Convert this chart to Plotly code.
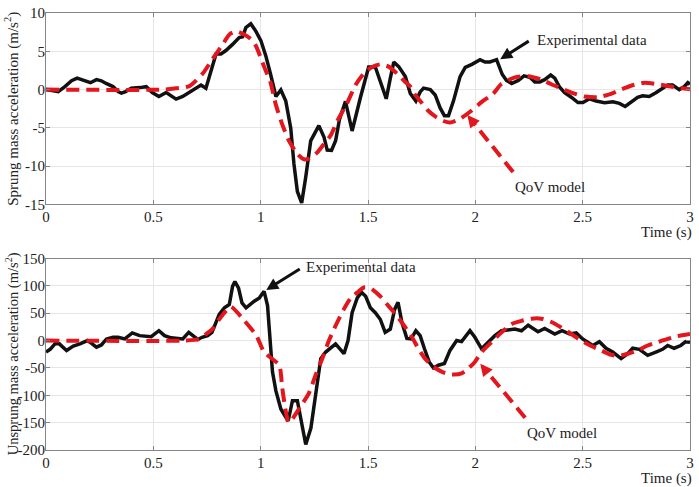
import plotly.graph_objects as go

# ---------------- data ----------------
ticks_x = [0, 0.5, 1, 1.5, 2, 2.5, 3]
ticklabels_x = ["0", "0.5", "1", "1.5", "2", "2.5", "3"]
ticks_y_top = [-15, -10, -5, 0, 5, 10]
ticklabels_y_top = ["-15", "-10", "-5", "0", "5", "10"]
ticks_y_bot = [-200, -150, -100, -50, 0, 50, 100, 150]
ticklabels_y_bot = ["-200", "-150", "-100", "-50", "0", "50", "100", "150"]

t_sprung_exp = [0, 0.057, 0.088, 0.119, 0.145, 0.173, 0.207, 0.235, 0.258, 0.28,
                0.312, 0.336, 0.351, 0.371, 0.397, 0.436, 0.467, 0.495, 0.526, 0.56,
                0.583, 0.606, 0.637, 0.668, 0.699, 0.722, 0.745, 0.769, 0.792, 0.815,
                0.838, 0.869, 0.9, 0.916, 0.931, 0.954, 0.978, 1.001, 1.024, 1.047,
                1.071, 1.094, 1.117, 1.14, 1.155, 1.171, 1.191, 1.21, 1.233, 1.271,
                1.295, 1.31, 1.33, 1.349, 1.367, 1.395, 1.426, 1.465, 1.503, 1.534,
                1.557, 1.585, 1.604, 1.62, 1.643, 1.674, 1.697, 1.723, 1.743, 1.759,
                1.79, 1.813, 1.836, 1.856, 1.875, 1.898, 1.929, 1.953, 1.984, 2.022,
                2.045, 2.068, 2.099, 2.125, 2.145, 2.169, 2.2, 2.227, 2.254, 2.277,
                2.3, 2.323, 2.351, 2.37, 2.393, 2.416, 2.447, 2.478, 2.501, 2.532,
                2.563, 2.602, 2.641, 2.671, 2.698, 2.725, 2.756, 2.779, 2.81, 2.841,
                2.872, 2.896, 2.919, 2.95, 2.974, 2.99, 3.0]
a_sprung_exp = [0, -0.26, 0.4, 1.15, 1.5, 1.24, 0.9, 1.3, 1.15, 0.8,
                0.4, -0.26, -0.47, -0.26, 0.17, 0.26, 0.38, -0.38, -0.9, -0.38,
                -0.8, -1.24, -0.9, -0.38, 0.17, 0.6, 0.17, 2.3, 4.65, 4.65,
                5.1, 5.9, 6.8, 6.9, 8.1, 8.6, 7.6, 6.4, 4.4, 1.9,
                -0.9, -0.04, -1.5, -5.0, -9.7, -13.3, -14.8, -11.4, -6.7, -4.7,
                -6.2, -7.9, -7.95, -6.67, -3.9, -1.54, -5.4, -1.0, 2.95, 2.95,
                1.0, -1.2, 1.5, 3.6, 3.0, 1.7, -0.5, -1.5, -0.3, 0.2,
                0.0, -0.7, -2.4, -3.4, -3.4, -1.5, 1.7, 2.9, 3.3, 3.9,
                3.6, 3.6, 3.9, 2.0, 1.2, 0.8, 1.2, 1.8, 1.6, 1.0,
                1.0, 1.3, 1.9, 1.5, 0.3, -0.4, -1.0, -1.7, -1.7, -1.2,
                -1.5, -1.7, -1.6, -1.8, -2.2, -1.7, -1.0, -0.8, -0.9, -0.4,
                0.2, 0.6, 0.6, 0.0, 0.4, 0.9, 0.7]

t_sprung_qov = [0, 0.55, 0.606, 0.668, 0.73, 0.776, 0.823, 0.854, 0.885, 0.923,
                0.954, 0.978, 1.016, 1.045, 1.071, 1.1, 1.132, 1.171, 1.202, 1.225,
                1.264, 1.295, 1.326, 1.357, 1.403, 1.442, 1.48, 1.519, 1.557, 1.596,
                1.635, 1.674, 1.697, 1.72, 1.751, 1.782, 1.813, 1.852, 1.882, 1.93,
                1.98, 2.03, 2.083, 2.12, 2.184, 2.246, 2.308, 2.354, 2.4, 2.447,
                2.509, 2.57, 2.632, 2.678, 2.725, 2.787, 2.849, 2.91, 3.0]
a_sprung_qov = [0, 0, 0.17, 0.45, 2.1, 4.0, 5.9, 7.2, 7.6, 7.2,
                6.6, 5.7, 3.0, 1.0, -2.0, -4.5, -6.7, -8.4, -9.1, -9.0,
                -8.2, -7.1, -6.0, -4.1, -1.75, 0.6, 2.1, 2.95, 3.3, 3.0,
                2.1, 1.0, 0.4, -0.7, -1.75, -2.8, -3.5, -4.1, -4.3, -3.8,
                -2.8, -1.6, -0.55, 0.7, 1.6, 1.75, 1.3, 0.7, 0.17, -0.38,
                -0.9, -1.0, -0.55, 0.0, 0.5, 0.9, 0.7, 0.4, 0.04]

t_unsprung_exp = [0, 0.019, 0.042, 0.062, 0.096, 0.127, 0.158, 0.193, 0.212, 0.235,
                  0.258, 0.282, 0.312, 0.336, 0.367, 0.402, 0.436, 0.467, 0.49, 0.526,
                  0.552, 0.583, 0.614, 0.637, 0.665, 0.684, 0.707, 0.727, 0.753, 0.773,
                  0.789, 0.807, 0.831, 0.854, 0.869, 0.88, 0.897, 0.913, 0.932, 0.95,
                  0.97, 0.994, 1.016, 1.032, 1.047, 1.055, 1.071, 1.094, 1.128, 1.148,
                  1.171, 1.188, 1.21, 1.234, 1.257, 1.28, 1.303, 1.349, 1.388, 1.407,
                  1.426, 1.45, 1.47, 1.489, 1.511, 1.534, 1.557, 1.58, 1.604, 1.624,
                  1.64, 1.658, 1.681, 1.701, 1.723, 1.743, 1.763, 1.785, 1.805, 1.828,
                  1.856, 1.882, 1.913, 1.936, 1.975, 1.998, 2.029, 2.06, 2.091, 2.122,
                  2.153, 2.184, 2.215, 2.246, 2.292, 2.323, 2.37, 2.404, 2.439, 2.47,
                  2.5, 2.547, 2.578, 2.609, 2.64, 2.679, 2.71, 2.733, 2.764, 2.803,
                  2.841, 2.872, 2.896, 2.926, 2.957, 2.98, 3.0]
a_unsprung_exp = [-21, -16, -6, -6, -18, -10, -6, 0, -5, -12,
                  -8, 3, 6, 6, 3, 14, 9, 7, 7, 18,
                  9, 5, 3, 3, 15, 9, 2, 6, 9, 15,
                  30, 48, 60, 66, 99, 108, 96, 69, 60, 66,
                  72, 78, 90, 64, -15, -57, -92, -125, -147, -110,
                  -110, -146, -190, -160, -92, -33, -21, -6, -24, 0,
                  51, 78, 88, 81, 60, 51, 39, 15, 21, 57,
                  70, 33, 4, 3, 18, 9, -15, -39, -50, -45,
                  -42, -18, 0, -2, 18, 6, -15, -3, 9, 18,
                  20, 21, 18, 28, 16, 22, 12, 18, 12, 14,
                  3, -9, -2, -14, -21, -33, -24, -14, -16, -27,
                  -21, -16, -9, -14, -9, -2, -3]

t_unsprung_qov = [0, 0.634, 0.715, 0.746, 0.777, 0.807, 0.838, 0.862, 0.892, 0.923,
                  0.979, 1.016, 1.086, 1.1, 1.115, 1.13, 1.15, 1.188, 1.225, 1.257,
                  1.285, 1.318, 1.35, 1.387, 1.42, 1.457, 1.48, 1.511, 1.557, 1.596,
                  1.635, 1.674, 1.705, 1.735, 1.766, 1.805, 1.85, 1.891, 1.936, 1.967,
                  1.998, 2.029, 2.075, 2.122, 2.168, 2.215, 2.261, 2.308, 2.354, 2.4,
                  2.447, 2.493, 2.54, 2.586, 2.632, 2.671, 2.71, 2.756, 2.803, 2.849,
                  2.896, 2.942, 3.0]
a_unsprung_qov = [0, 0, 3, 12, 22, 39, 54, 62, 51, 37,
                  10, -21, -45, -85, -125, -150, -142, -119, -96, -62,
                  -35, 0, 28, 57, 78, 90, 97, 96, 81, 63,
                  45, 24, 6, -15, -33, -48, -58, -62, -60, -51,
                  -39, -21, -3, 15, 30, 36, 40, 40, 34, 24,
                  12, 0, -10, -18, -26, -28, -24, -18, -9, -3,
                  3, 8, 12]

assert len(t_sprung_exp) == len(a_sprung_exp)
assert len(t_sprung_qov) == len(a_sprung_qov)
assert len(t_unsprung_exp) == len(a_unsprung_exp)
assert len(t_unsprung_qov) == len(a_unsprung_qov)

# annotation anchor points (data coordinates)
top_exp_head = (2.116, 3.97)
top_exp_text = (2.278, 6.54)
top_qov_head = (1.963, -3.33)
top_qov_shaft_end = (1.986, -4.13)
top_qov_tail = (2.176, -10.77)
top_qov_text = (2.176, -12.7)
bot_exp_head = (1.026, 92.5)
bot_exp_text = (1.202, 133.8)
bot_qov_head = (2.023, -42.2)
bot_qov_shaft_end = (2.047, -53.4)
bot_qov_tail = (2.232, -141.0)
bot_qov_text = (2.232, -169.7)

# ---------------- style ----------------
FONT = "'Liberation Serif', 'Times New Roman', Times, serif"
BLACK = "#111111"
RED = "#e3161e"
AXC = "#858585"
GRID = "#e6e6e6"
DASH = "13px,7px"

fig = go.Figure()

fig.add_trace(go.Scatter(x=t_sprung_exp, y=a_sprung_exp, mode="lines",
                         line=dict(color=BLACK, width=3.5), xaxis="x", yaxis="y"))
fig.add_trace(go.Scatter(x=t_sprung_qov, y=a_sprung_qov, mode="lines",
                         line=dict(color=RED, width=4, dash=DASH, shape="spline", smoothing=0.6),
                         xaxis="x", yaxis="y"))
fig.add_trace(go.Scatter(x=t_unsprung_exp, y=a_unsprung_exp, mode="lines",
                         line=dict(color=BLACK, width=3.5), xaxis="x2", yaxis="y2"))
fig.add_trace(go.Scatter(x=t_unsprung_qov, y=a_unsprung_qov, mode="lines",
                         line=dict(color=RED, width=4, dash=DASH, shape="spline", smoothing=0.6),
                         xaxis="x2", yaxis="y2"))

# dashed arrow shafts
fig.add_trace(go.Scatter(x=[top_qov_tail[0], top_qov_shaft_end[0]],
                         y=[top_qov_tail[1], top_qov_shaft_end[1]], mode="lines",
                         line=dict(color=RED, width=4, dash=DASH), xaxis="x", yaxis="y"))
fig.add_trace(go.Scatter(x=[bot_qov_tail[0], bot_qov_shaft_end[0]],
                         y=[bot_qov_tail[1], bot_qov_shaft_end[1]], mode="lines",
                         line=dict(color=RED, width=4, dash=DASH), xaxis="x2", yaxis="y2"))

top_dom = [0.5618, 1.0]
bot_dom = [0.0, 0.4382]

def xax(anchor, dom):
    return dict(domain=[0, 1], anchor=anchor, range=[0, 3], tickvals=ticks_x,
                ticktext=ticklabels_x, showline=True, linecolor=AXC, linewidth=1,
                mirror="ticks", ticks="inside", ticklen=4, tickcolor=AXC,
                showgrid=True, gridcolor=GRID, gridwidth=1, zeroline=False,
                ticklabeloverflow="allow", ticklabelstandoff=-1,
                tickfont=dict(family=FONT, size=15, color="#222222"), fixedrange=True)

def yax(anchor, dom, rng, tv, tt):
    return dict(domain=dom, anchor=anchor, range=rng, tickvals=tv, ticktext=tt,
                showline=True, linecolor=AXC, linewidth=1, mirror="ticks",
                ticks="inside", ticklen=4, tickcolor=AXC, showgrid=True,
                gridcolor=GRID, gridwidth=1, zeroline=False,
                ticklabeloverflow="allow", ticklabelstandoff=-3,
                tickfont=dict(family=FONT, size=15, color="#222222"), fixedrange=True)

tf = dict(family=FONT, size=15, color="#222222")

annotations = [
    # y-axis titles
    dict(text="Sprung mass acceleration (m/s<sup>2</sup>)", xref="paper", yref="paper",
         x=0, y=sum(top_dom) / 2, xshift=-34, textangle=-90, showarrow=False,
         xanchor="center", yanchor="middle", font=tf),
    dict(text="Unsprung mass acceleration (m/s<sup>2</sup>)", xref="paper", yref="paper",
         x=0, y=sum(bot_dom) / 2, xshift=-34, textangle=-90, showarrow=False,
         xanchor="center", yanchor="middle", font=dict(family=FONT, size=14.5, color="#222222")),
    # x-axis titles
    dict(text="Time (s)", xref="paper", yref="paper", x=1, y=top_dom[0], xshift=4,
         yshift=-28, xanchor="right", yanchor="middle", showarrow=False, font=tf),
    dict(text="Time (s)", xref="paper", yref="paper", x=1, y=bot_dom[0], xshift=4,
         yshift=-28, xanchor="right", yanchor="middle", showarrow=False, font=tf),
    # top annotations
    dict(text="Experimental data", xref="x", yref="y", x=top_exp_text[0], y=top_exp_text[1],
         xanchor="left", yanchor="middle", showarrow=False, font=tf),
    dict(text="", xref="x", yref="y", x=top_exp_head[0], y=top_exp_head[1], ax=30, ay=-19,
         showarrow=True, arrowhead=2, arrowsize=0.8, arrowwidth=3, arrowcolor=BLACK),
    dict(text="QoV model", xref="x", yref="y", x=top_qov_text[0], y=top_qov_text[1],
         xanchor="left", yanchor="middle", showarrow=False, font=tf),
    dict(text="", xref="x", yref="y", x=top_qov_head[0], y=top_qov_head[1], ax=8, ay=10,
         showarrow=True, arrowhead=2, arrowsize=0.7, arrowwidth=3.5, arrowcolor=RED),
    # bottom annotations
    dict(text="Experimental data", xref="x2", yref="y2", x=bot_exp_text[0], y=bot_exp_text[1],
         xanchor="left", yanchor="middle", showarrow=False, font=tf),
    dict(text="", xref="x2", yref="y2", x=bot_exp_head[0], y=bot_exp_head[1], ax=35, ay=-22,
         showarrow=True, arrowhead=2, arrowsize=0.8, arrowwidth=3, arrowcolor=BLACK),
    dict(text="QoV model", xref="x2", yref="y2", x=bot_qov_text[0], y=bot_qov_text[1],
         xanchor="left", yanchor="middle", showarrow=False, font=tf),
    dict(text="", xref="x2", yref="y2", x=bot_qov_head[0], y=bot_qov_head[1], ax=8, ay=10,
         showarrow=True, arrowhead=2, arrowsize=0.7, arrowwidth=3.5, arrowcolor=RED),
]

fig.update_layout(
    width=699, height=487,
    margin=dict(l=46, r=6, t=5, b=37),
    paper_bgcolor="white", plot_bgcolor="white",
    showlegend=False,
    xaxis=xax("y", top_dom),
    yaxis=yax("x", top_dom, [-15, 10], ticks_y_top, ticklabels_y_top),
    xaxis2=xax("y2", bot_dom),
    yaxis2=yax("x2", bot_dom, [-200, 150], ticks_y_bot, ticklabels_y_bot),
    annotations=annotations,
    font=dict(family=FONT, color="#222222"),
)

fig.write_html("out.html", config={"displayModeBar": False},
               post_script="document.body.style.margin='0';document.body.style.overflow='hidden';")
